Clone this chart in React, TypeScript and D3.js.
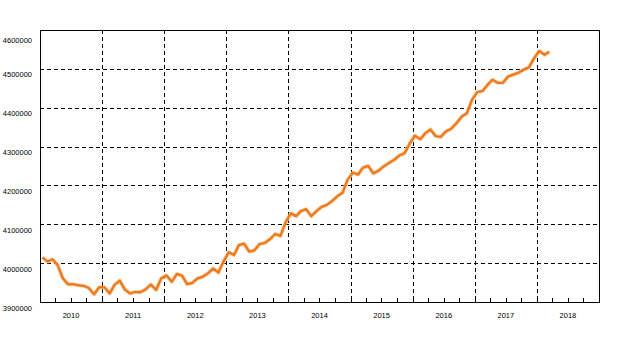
import React from 'react';
import * as d3 from 'd3';

// monthly series, Jan 2010 .. Mar 2018
const startYear = 2010;
const values = [
  4015000, 4004000, 4010000, 3995000, 3961000, 3945500, 3946000, 3943000, 3941500, 3936000, 3920000, 3938000,
  3938000, 3922000, 3944000, 3955000, 3932000, 3922000, 3926000, 3925000, 3933000, 3945000, 3931000, 3961000,
  3968000, 3952000, 3972000, 3968000, 3946000, 3949000, 3961000, 3965000, 3974000, 3986000, 3976000, 4004000,
  4028000, 4021000, 4046000, 4050000, 4030000, 4033000, 4049000, 4052000, 4062000, 4075000, 4070000, 4105000,
  4128000, 4121000, 4134000, 4139000, 4121000, 4134000, 4145000, 4150000, 4160000, 4172000, 4181000, 4215000,
  4233000, 4228000, 4246000, 4250000, 4231000, 4238000, 4249000, 4258000, 4266000, 4277000, 4283000, 4308000,
  4328000, 4319000, 4334000, 4344000, 4327000, 4325000, 4339000, 4346000, 4360000, 4377000, 4386000, 4420000,
  4440000, 4443000, 4458000, 4472000, 4464000, 4464000, 4480000, 4485000, 4490000, 4498000, 4504000, 4527000,
  4546000, 4536000, 4544000,
];
const yTicks = [3900000, 4000000, 4100000, 4200000, 4300000, 4400000, 4500000, 4600000];
const yearLabels = ['2010', '2011', '2012', '2013', '2014', '2015', '2016', '2017', '2018'];

const W = 640;
const H = 360;
const left = 40;
const right = 599;
const top = 30;
const bottom = 302;

const font = '"Liberation Sans", Arial, sans-serif';

export default function App() {
  const x = d3.scaleTime()
    .domain([new Date(2010, 0, 1), new Date(2019, 0, 1)])
    .range([left, right]);
  const y = d3.scaleLinear().domain([3900000, 4600000]).range([bottom, top]);

  const points = values.map((v, i) => ({ date: new Date(startYear, i, 15), value: v }));
  const line = d3.line<{ date: Date; value: number }>()
    .x(d => x(d.date))
    .y(d => y(d.value))
    .curve(d3.curveLinear);
  const path = line(points) || '';

  const yearStarts = yearLabels.map(l => new Date(+l, 0, 1));
  const quarters = d3.timeMonth.every(3)!.range(new Date(2010, 0, 1), new Date(2019, 0, 1));
  const px = (v: number) => Math.round(v) + 0.5;

  return (
    <svg width={W} height={H} style={{ position: 'absolute', left: 0, top: 0, background: '#fff' }}>
      {/* horizontal grid */}
      {yTicks.slice(1, -1).map(t => (
        <line key={'h' + t} x1={left} x2={right} y1={px(y(t))} y2={px(y(t))}
          stroke="#000" strokeWidth={1} strokeDasharray="4,3" shapeRendering="crispEdges" />
      ))}
      {/* vertical grid */}
      {yearStarts.slice(1).map((d, i) => (
        <line key={'v' + i} x1={px(x(d))} x2={px(x(d))} y1={top} y2={bottom}
          stroke="#000" strokeWidth={1} strokeDasharray="4,3" shapeRendering="crispEdges" />
      ))}
      {/* quarter ticks */}
      {quarters.map((d, i) => (
        <line key={'q' + i} x1={px(x(d))} x2={px(x(d))} y1={bottom} y2={bottom - 4}
          stroke="#000" strokeWidth={1} shapeRendering="crispEdges" />
      ))}
      {/* frame */}
      <rect x={left + 0.5} y={top + 0.5} width={right - left} height={bottom - top}
        fill="none" stroke="#000" strokeWidth={1} shapeRendering="crispEdges" />
      {/* series */}
      <path d={path} fill="none" stroke="#f8c393" strokeWidth={4} strokeLinejoin="round" opacity={0.7} />
      <path d={path} fill="none" stroke="#ee7a1e" strokeWidth={2.4} strokeLinejoin="round" />
      {/* y labels */}
      {yTicks.map((t, i) => (
        <text key={'yl' + t} x={32} y={y(t) + (i === yTicks.length - 1 ? 12.5 : 8.5)}
          textAnchor="end" fontFamily={font} fontSize={7.5} fill="#000">{t}</text>
      ))}
      {/* x labels */}
      {yearStarts.map((d, i) => (
        <text key={'xl' + i} x={(x(d) + x(new Date(d.getFullYear() + 1, 0, 1))) / 2} y={318}
          textAnchor="middle" fontFamily={font} fontSize={7.5} fill="#000">{yearLabels[i]}</text>
      ))}
    </svg>
  );
}
